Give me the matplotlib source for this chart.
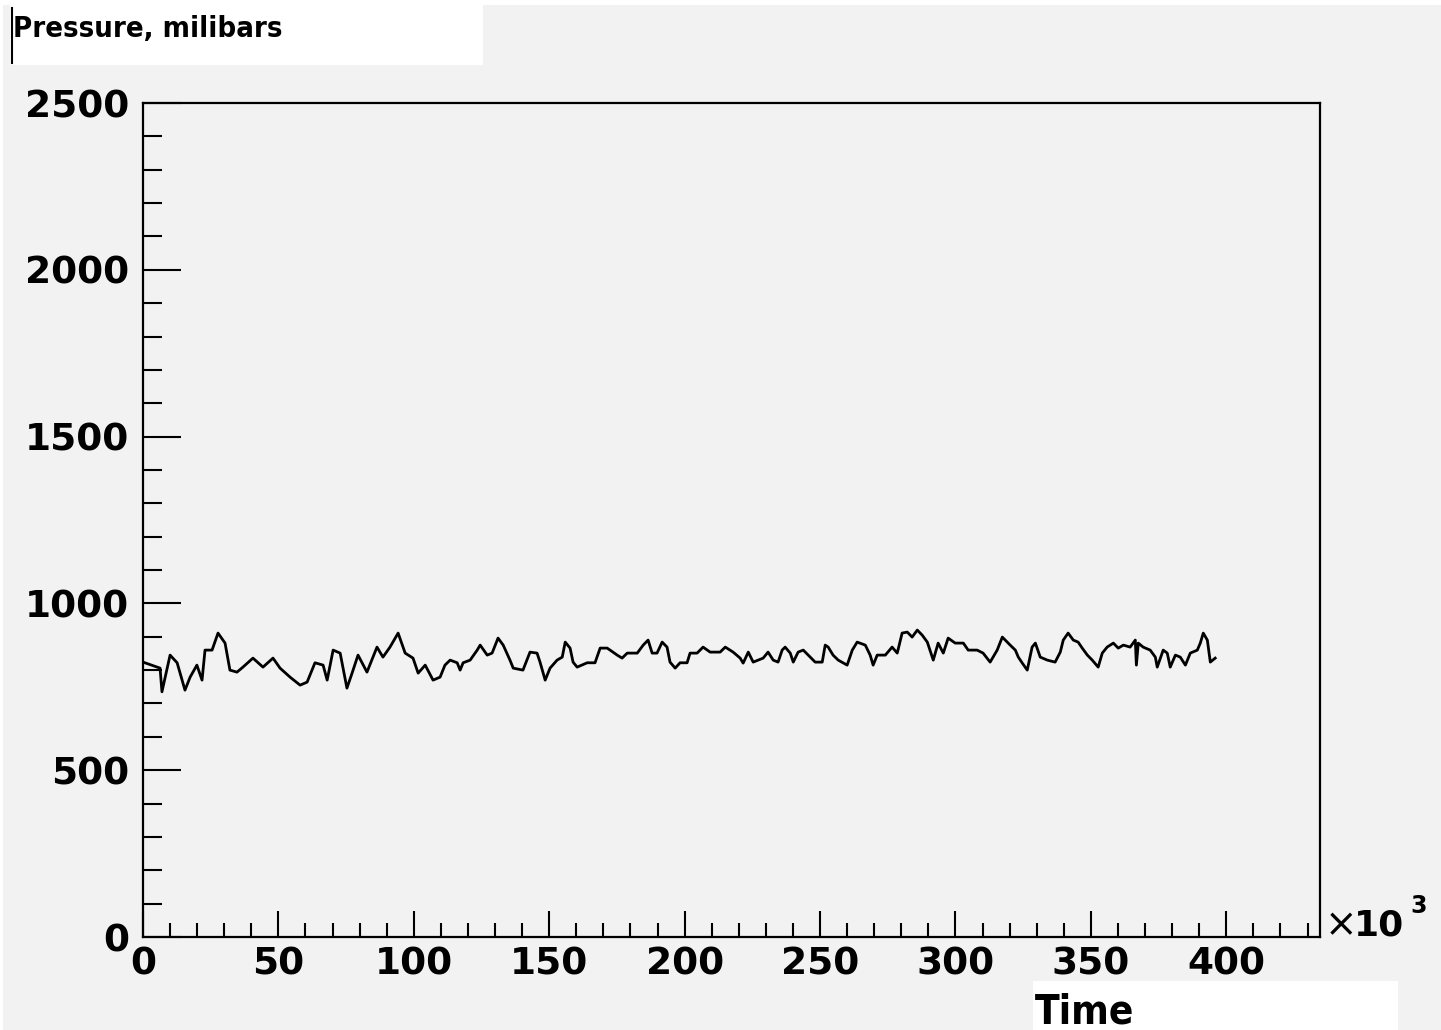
import matplotlib
matplotlib.use("Agg")
import matplotlib.pyplot as plt
from matplotlib.patches import Rectangle
from matplotlib.ticker import MultipleLocator

# ---- data (time in units of 10^3) ----
time_k = [0.7, 6.3, 7.0, 10.0, 12.6, 15.5, 17.4, 19.9, 21.8, 22.9, 25.5, 27.7, 30.3, 32.1,
          34.7, 36.9, 40.6, 44.3, 48.0, 50.6, 54.3, 58.0, 60.6, 63.5, 66.5, 68.0, 70.2,
          72.8, 75.3, 77.2, 79.4, 82.7, 86.4, 88.6, 91.2, 94.2, 96.8, 99.7, 101.6, 104.2,
          107.1, 109.7, 111.5, 113.4, 116.0, 117.1, 118.2, 120.8, 123.4, 124.5, 127.1,
          128.9, 131.1, 133.0, 135.5, 136.7, 140.3, 142.9, 145.5, 146.6, 148.5, 150.3,
          152.9, 154.8, 155.9, 157.7, 158.8, 160.3, 164.0, 166.9, 168.8, 171.4, 175.1,
          176.9, 178.8, 182.5, 184.7, 186.5, 188.0, 189.8, 191.7, 193.5, 194.6, 196.5,
          198.3, 200.9, 202.0, 204.6, 206.8, 209.4, 213.1, 215.0, 217.9, 220.5, 221.6,
          223.5, 225.3, 229.0, 230.8, 232.7, 234.5, 236.0, 237.1, 239.0, 240.1, 241.9,
          243.8, 246.4, 248.2, 250.8, 251.9, 253.0, 254.8, 256.7, 260.0, 261.9, 263.7,
          266.7, 268.5, 269.6, 271.1, 274.1, 276.6, 278.5, 280.3, 282.2, 284.0, 285.9,
          287.7, 289.6, 291.8, 293.6, 295.5, 297.3, 299.9, 302.9, 304.7, 308.0, 310.2,
          312.8, 315.4, 317.3, 319.1, 320.2, 322.1, 323.2, 324.6, 326.5, 328.3, 329.5,
          331.3, 333.9, 336.8, 338.7, 339.8, 341.6, 343.5, 345.3, 346.8, 348.7, 350.5,
          352.7, 354.2, 356.0, 358.3, 360.1, 362.0, 364.5, 366.4, 366.8, 367.5, 369.3,
          371.9, 373.8, 374.5, 376.7, 378.2, 379.3, 381.2, 383.0, 384.9, 386.7, 389.3,
          390.4, 391.5, 393.0, 394.1, 395.9]
pressure = [822, 806, 735, 845, 822, 740, 779, 815, 770, 860, 860, 911, 881, 800,
            794, 809, 836, 809, 836, 806, 779, 755, 764, 822, 815, 770, 860,
            851, 746, 791, 845, 794, 869, 839, 869, 911, 851, 836, 791, 815,
            770, 779, 815, 830, 822, 800, 822, 830, 860, 875, 845,
            851, 896, 875, 830, 806, 800, 854, 851, 824, 770, 806,
            830, 839, 884, 866, 824, 809, 822, 822, 866, 866, 845,
            836, 851, 851, 875, 890, 851, 851, 884, 869, 824, 806,
            822, 822, 851, 851, 869, 854, 854, 869, 854, 836, 821,
            854, 824, 836, 854, 830, 824, 860, 869, 851, 824, 854,
            860, 839, 824, 824, 875, 869, 845, 830, 815, 860, 884,
            875, 845, 815, 845, 845, 869, 851, 911, 914, 899, 920,
            905, 884, 830, 881, 851, 896, 881, 881, 860, 860, 851,
            824, 860, 899, 884, 875, 860, 839, 822, 800, 869, 881,
            839, 830, 824, 854, 890, 911, 890, 884, 866, 845, 830,
            809, 851, 869, 881, 866, 875, 869, 890, 815, 881, 869,
            860, 839, 809, 860, 851, 809, 845, 839, 815, 851, 860,
            881, 911, 890, 824, 836]

y_ticks = [0, 500, 1000, 1500, 2000, 2500]
x_ticks = [0, 50, 100, 150, 200, 250, 300, 350, 400]
title_text = "Pressure, milibars"
xlabel_text = "Time"

W, H = 1441, 1030
BG = "#f2f2f2"

fig = plt.figure(figsize=(W / 100, H / 100), dpi=100, facecolor="white")

def fx(px):
    return px / W

def fy(py):
    return 1 - py / H

# gray canvas
fig.patches.append(Rectangle((fx(3), 0), 1 - fx(3), fy(5), transform=fig.transFigure,
                             facecolor=BG, edgecolor="none", zorder=-3))

ax = fig.add_axes([fx(143), fy(937), fx(1320) - fx(143), fy(103) - fy(937)])
ax.set_facecolor(BG)
ax.plot(time_k, pressure, color="black", linewidth=2.0, zorder=3)

ax.set_xlim(0, 434.6)
ax.set_ylim(0, 2500)
ax.set_xticks(x_ticks)
ax.set_yticks(y_ticks)
ax.xaxis.set_minor_locator(MultipleLocator(10))
ax.yaxis.set_minor_locator(MultipleLocator(100))

for s in ax.spines.values():
    s.set_linewidth(1.6)
    s.set_color("black")

ax.tick_params(axis="both", which="both", direction="in", color="black", width=1.5,
               top=False, right=False)
ax.tick_params(axis="y", which="major", length=27, pad=10)
ax.tick_params(axis="y", which="minor", length=13.5)
ax.tick_params(axis="x", which="major", length=19, pad=7)
ax.tick_params(axis="x", which="minor", length=10)

ax.set_xticklabels([str(v) for v in x_ticks], fontsize=27, fontweight="bold",
                   family="DejaVu Sans")
ax.set_yticklabels([str(v) for v in y_ticks], fontsize=27, fontweight="bold",
                   family="DejaVu Sans")

# x10^3 exponent label
fig.text(fx(1325), fy(936), "\u00d7", fontsize=28, color="black", ha="left", va="baseline")
fig.text(fx(1354), fy(936), "10", fontsize=26, fontweight="bold", color="black",
         ha="left", va="baseline")
fig.text(fx(1410), fy(913), "3", fontsize=17, fontweight="bold", color="black",
         ha="left", va="baseline")

# title box
fig.patches.append(Rectangle((fx(10), fy(65)), fx(483) - fx(10), fy(0) - fy(65),
                             transform=fig.transFigure, facecolor="white",
                             edgecolor="none", zorder=-1))
fig.lines.append(plt.Line2D([fx(12), fx(12)], [fy(63), fy(8)], transform=fig.transFigure,
                            color="black", linewidth=1.5))
fig.text(fx(13), fy(37), title_text, fontsize=21, fontweight="bold", color="black",
         ha="left", va="baseline", family="DejaVu Sans", fontstretch="condensed")

# x-axis title box
fig.patches.append(Rectangle((fx(1033), 0), fx(1398) - fx(1033), fy(981),
                             transform=fig.transFigure, facecolor="white",
                             edgecolor="none", zorder=-1))
fig.text(fx(1035), fy(1023), xlabel_text, fontsize=29, fontweight="bold", color="black",
         ha="left", va="baseline", family="DejaVu Sans", fontstretch="condensed")

fig.savefig("out.png", dpi=100, facecolor=fig.get_facecolor())
